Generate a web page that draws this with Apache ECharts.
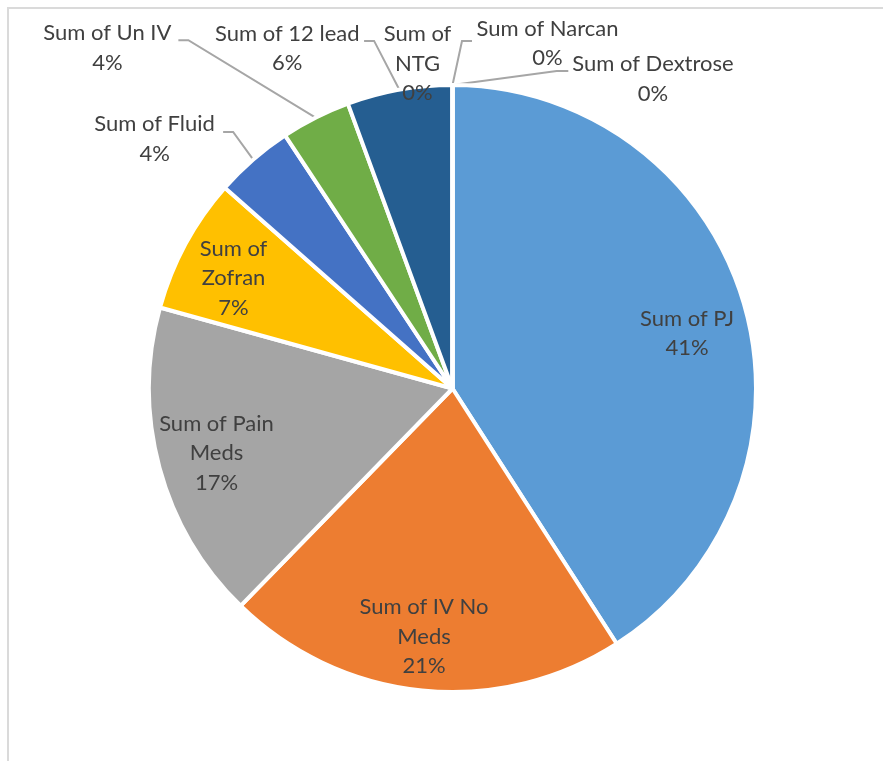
<!DOCTYPE html>
<html>
<head>
<meta charset="utf-8">
<script src="https://cdn.jsdelivr.net/npm/echarts@6/dist/echarts.min.js"></script>
<style>
  html, body { margin: 0; padding: 0; background: #ffffff; }
  #frame { position: absolute; left: 7px; top: 7px; width: 900px; height: 800px;
           border-left: 2px solid #dadada; border-top: 2px solid #dadada; box-sizing: border-box; }
  #chart { position: absolute; left: 0; top: 0; width: 883px; height: 761px; }
</style>
</head>
<body>
<div id="frame"></div>
<div id="chart"></div>
<script>
// ---------------- data ----------------
const categories = ['Sum of PJ', 'Sum of IV No Meds', 'Sum of Pain Meds', 'Sum of Zofran',
  'Sum of Fluid', 'Sum of Un IV', 'Sum of 12 lead', 'Sum of NTG', 'Sum of Narcan', 'Sum of Dextrose'];
const values = [409, 214, 170, 72, 42, 37, 56, 0, 0, 0];
const labelNames = ['Sum of PJ', 'Sum of IV No\nMeds', 'Sum of Pain\nMeds', 'Sum of\nZofran',
  'Sum of Fluid', 'Sum of Un IV', 'Sum of 12 lead', 'Sum of\nNTG', 'Sum of Narcan', 'Sum of Dextrose'];

// ---------------- style / layout ----------------
const colors = ['#5B9BD5', '#ED7D31', '#A5A5A5', '#FFC000', '#4472C4', '#70AD47',
  '#255E91', '#9E480E', '#636363', '#997300'];
const CX = 452.5, CY = 388.5, R = 303.5;
const FONT = { color: '#404040', fontFamily: 'Lato, "Open Sans", sans-serif', fontSize: 22, lineHeight: 29.5 };

// inside labels: small nudge from the library's inside position
const insideNudge = {
  'Sum of PJ': [0, 14], 'Sum of IV No Meds': [-4, 5], 'Sum of Pain Meds': [0, 1], 'Sum of Zofran': [-4, 6]
};
// outside labels: offsets from the slice's arc anchor (label centre, leader elbow, leader end)
const outsideLayout = {
  'Sum of Fluid':    { label: [-98.6, -20.6], line: [[-20.1, -27.6], [-30.1, -27.6]] },
  'Sum of Un IV':    { label: [-208.2, -69.9], line: [[-127.2, -77.4], [-137.2, -77.4]] },
  'Sum of 12 lead':  { label: [-112.1, -41.3], line: [[-25.3, -48.8], [-35.3, -48.8]] },
  'Sum of NTG':      { label: [-35, -21.5], line: null },
  'Sum of Narcan':   { label: [95, -41.5], line: [[9.5, -44], [19.5, -44]] },
  'Sum of Dextrose': { label: [200.5, -6], line: [[104.2, -14], [115.8, -14]] }
};

function fmt(p) {
  return labelNames[p.dataIndex] + '\n' + Math.round(p.percent) + '%';
}

const chart = echarts.init(document.getElementById('chart'), null, { renderer: 'canvas' });
chart.setOption({
  animation: false,
  series: [
    {
      type: 'pie',
      center: [CX, CY],
      radius: R,
      startAngle: 90,
      clockwise: true,
      avoidLabelOverlap: false,
      silent: true,
      itemStyle: { borderColor: '#ffffff', borderWidth: 4 },
      label: Object.assign({ show: true, position: 'outside', formatter: fmt }, FONT),
      labelLine: { show: true, length: 10, length2: 10, lineStyle: { color: '#A6A6A6', width: 2 } },
      data: categories.map((n, i) => ({
        name: n, value: values[i],
        itemStyle: { color: colors[i] },
        label: { show: !(n in insideNudge) },
        labelLine: { show: !(n in insideNudge) }
      })),
      labelLayout: function (p) {
        const cfg = outsideLayout[categories[p.dataIndex]];
        if (!cfg || !p.labelLinePoints) return {};
        const a = p.labelLinePoints[0];
        const pts = cfg.line
          ? [a, [a[0] + cfg.line[0][0], a[1] + cfg.line[0][1]], [a[0] + cfg.line[1][0], a[1] + cfg.line[1][1]]]
          : [a, a, a];
        return {
          x: a[0] + cfg.label[0], y: a[1] + cfg.label[1],
          align: 'center', verticalAlign: 'middle',
          labelLinePoints: pts
        };
      }
    },
    {
      type: 'pie',
      center: [CX, CY],
      radius: [181.5, 301.5],
      startAngle: 90,
      clockwise: true,
      silent: true,
      itemStyle: { color: 'rgba(0,0,0,0)', borderWidth: 0 },
      label: Object.assign({ show: true, position: 'inside', formatter: fmt }, FONT),
      labelLine: { show: false },
      data: categories.map((n, i) => ({
        name: n, value: values[i],
        label: { show: (n in insideNudge) }
      })),
      labelLayout: function (p) {
        const nd = insideNudge[categories[p.dataIndex]];
        if (!nd) return {};
        const r = p.labelRect;
        return { x: r.x + r.width / 2 + nd[0], y: r.y + r.height / 2 + nd[1], align: 'center', verticalAlign: 'middle' };
      }
    }
  ]
});
</script>
</body>
</html>
